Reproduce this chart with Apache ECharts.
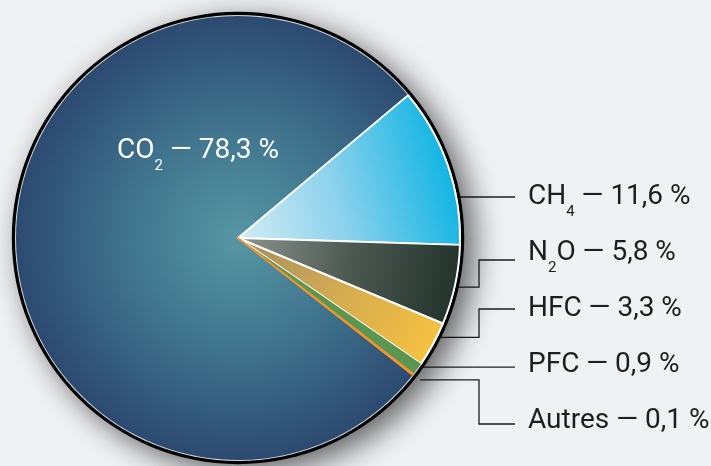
<!DOCTYPE html>
<html><head><meta charset="utf-8">
<script src="https://cdn.jsdelivr.net/npm/echarts@6/dist/echarts.min.js"></script>
<style>html,body{margin:0;padding:0;background:#eff1f3}#c{width:711px;height:466px}</style>
</head><body><div id="c"></div>
<script>
const categories = ['CO2', 'CH4', 'N2O', 'HFC', 'PFC', 'Autres'];
const values = [78.3, 11.6, 5.8, 3.3, 0.9, 0.1];

const CX = 238, CY = 238, R = 222;
const total = values.reduce((a, b) => a + b, 0);
const START = 40 + 360 * values[0] / total; // CO2 ends at 40deg, CH4 starts there
const deg = Math.PI / 180;

const ranges = [];
(function () {
  let a = START;
  values.forEach(v => { const s = 360 * v / total; ranges.push([a, a - s]); a -= s; });
})();

const fills = [
  { type: 'radial', x: CX, y: CY, r: R, global: true,
    colorStops: [{ offset: 0, color: '#5697a3' }, { offset: 0.5, color: '#40748e' }, { offset: 1, color: '#2c4a70' }] },
  { type: 'linear', x: CX, y: CY, x2: CX + R, y2: CY - 60, global: true,
    colorStops: [{ offset: 0, color: '#d2ecf4' }, { offset: 0.45, color: '#8ed2ec' }, { offset: 1, color: '#0bb3e3' }] },
  { type: 'linear', x: CX, y: CY, x2: CX + R, y2: CY + 40, global: true,
    colorStops: [{ offset: 0, color: '#8f9590' }, { offset: 0.5, color: '#4c5a52' }, { offset: 1, color: '#23322b' }] },
  { type: 'linear', x: CX, y: CY, x2: CX + R * 0.85, y2: CY + R * 0.5, global: true,
    colorStops: [{ offset: 0, color: '#a48c62' }, { offset: 0.5, color: '#d2aa52' }, { offset: 1, color: '#f3c040' }] },
  '#5a9551',
  '#f2932c'
];
const borders = [
  { w: 0, c: '#fff' }, { w: 1.8, c: '#fff' }, { w: 1.8, c: '#fff' }, { w: 2, c: '#fff' },
  { w: 0, c: '#fff' }, { w: 1.6, c: '#f2932c' }
];

function subRich(name) {
  return name.replace(/(\d)/g, '}{s|$1}{a|');
}

const LX = 528, LY0 = 197, LSTEP = 56, LINE_END = 515, ELBOW = 479;
const anchorT = [0, 0, 0.61, 0.59, 0.58, 0.5];
const anchorRF = [0, 0.875, 0.885, 0.905, 0.98, 1.04];
const straight = [false, true, false, false, true, false];
const lineOff = [0, 0, 7, 0, 0, 3];

const chart = echarts.init(document.getElementById('c'));
chart.setOption({
  backgroundColor: '#eff1f3',
  animation: false,
  series: [
    { type: 'pie', silent: true, center: [CX, CY], radius: R + 4.2, label: { show: false }, labelLine: { show: false },
      data: [{ value: 1, itemStyle: { color: '#000', shadowBlur: 30, shadowOffsetX: 10, shadowOffsetY: 8, shadowColor: 'rgba(0,0,0,0.6)' } }] },
    { type: 'pie', silent: true, center: [CX, CY], radius: R + 1, label: { show: false }, labelLine: { show: false },
      data: [{ value: 1, itemStyle: { color: '#cfd4d8' } }] },
    {
      type: 'pie', silent: true, center: [CX, CY], radius: R, startAngle: START, clockwise: true,
      avoidLabelOverlap: false,
      data: categories.map((n, i) => ({
        name: n, value: values[i],
        itemStyle: { color: fills[i], borderWidth: borders[i].w, borderColor: borders[i].c },
        label: { color: i === 0 ? '#ffffff' : '#1e1e1e' },
        labelLine: { show: i !== 0 }
      })),
      label: {
        show: true, position: 'outside',
        fontFamily: 'Roboto', fontSize: 28,
        formatter: p => '{a|' + subRich(p.name) + ' — ' + p.value.toFixed(1).replace('.', ',') + ' %}',
        rich: {
          a: { fontFamily: 'Roboto', fontSize: 28, lineHeight: 46 },
          s: { fontFamily: 'Roboto', fontSize: 15, lineHeight: 14, verticalAlign: 'bottom' }
        }
      },
      labelLine: { show: true, lineStyle: { color: '#1e1e1e', width: 1.3 } },
      labelLayout: function (p) {
        const i = p.dataIndex;
        if (i === 0) {
          return { x: CX - 40, y: CY - 87, align: 'center', verticalAlign: 'middle' };
        }
        const k = i - 1;
        const ty = LY0 + LSTEP * k;
        const ly = ty + lineOff[i];
        let pts;
        if (i === 1) {
          const rr = anchorRF[i] * R, dy = ly - CY;
          const ax = CX + Math.sqrt(rr * rr - dy * dy);
          pts = [[ax, ly], [ELBOW, ly], [LINE_END, ly]];
        } else {
          const a = ranges[i][0] + (ranges[i][1] - ranges[i][0]) * anchorT[i];
          const ax = CX + anchorRF[i] * R * Math.cos(a * deg);
          const ay = CY - anchorRF[i] * R * Math.sin(a * deg);
          if (straight[i]) {
            pts = [[ax, ay], [ELBOW, ay], [LINE_END, ay]];
          } else {
            pts = [[ax, ay], [ELBOW, ay], [ELBOW, ly], [LINE_END, ly]];
          }
        }
        return { x: LX, y: ty, align: 'left', verticalAlign: 'middle', labelLinePoints: pts };
      }
    }
  ]
});
</script></body></html>
